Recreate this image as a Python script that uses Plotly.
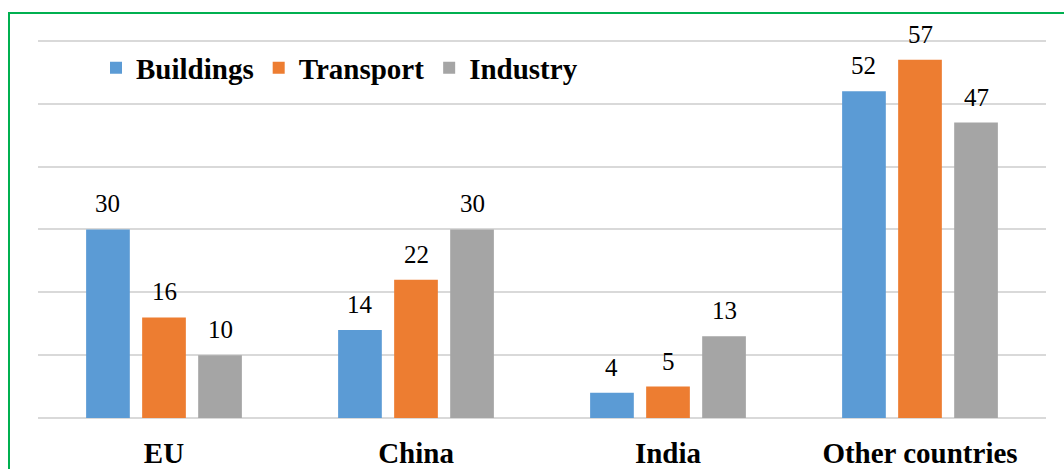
import plotly.graph_objects as go

categories = ["EU", "China", "India", "Other countries"]
buildings = [30, 14, 4, 52]
transport = [16, 22, 5, 57]
industry = [10, 30, 13, 47]

series = [
    ("Buildings", buildings, "#5b9bd5"),
    ("Transport", transport, "#ed7d31"),
    ("Industry", industry, "#a5a5a5"),
]

FONT = "Liberation Serif"
W, H = 1064, 469
ML, MR, MT, MB = 38, 18, 39, 51
BARGAP = 0.333
BARGROUPGAP = 0.22
YMAX = 60.3

fig = go.Figure()
for name, vals, color in series:
    fig.add_trace(go.Bar(
        x=categories, y=vals, name=name,
        marker=dict(color=color, line=dict(width=0)),
    ))

# data labels as annotations above each bar
plot_w = W - ML - MR
cat_w = plot_w / len(categories)
slot = cat_w * (1 - BARGAP) / len(series)
for i, (name, vals, color) in enumerate(series):
    shift = (i - (len(series) - 1) / 2) * slot
    for c, v in zip(categories, vals):
        fig.add_annotation(
            x=c, y=v, text=str(v), showarrow=False,
            xshift=shift, yshift=10, yanchor="bottom",
            font=dict(size=25, color="#000000", weight="normal"),
        )

ph = H - MT - MB
fig.add_shape(
    type="rect", xref="paper", yref="paper",
    x0=(9 - ML) / plot_w, x1=1.2,
    y0=-0.5, y1=(H - MB - 13) / ph,
    line=dict(color="#00b050", width=2), fillcolor="rgba(0,0,0,0)",
    layer="above",
)

fig.update_layout(
    width=W, height=H,
    margin=dict(l=ML, r=MR, t=MT, b=MB, pad=0, autoexpand=False),
    paper_bgcolor="white", plot_bgcolor="white",
    barmode="group", bargap=BARGAP, bargroupgap=BARGROUPGAP,
    font=dict(family=FONT, color="#000000"),
    showlegend=True,
    legend=dict(
        orientation="h", x=(96 - ML) / plot_w, xanchor="left",
        y=(H - MB - 68) / ph, yanchor="middle",
        font=dict(family=FONT, size=29, color="#000000", weight="bold"),
        bgcolor="rgba(0,0,0,0)", borderwidth=0,
        itemsizing="constant", tracegroupgap=0,
    ),
    xaxis=dict(
        type="category", showgrid=False, showline=False, zeroline=False,
        ticks="", ticklabelstandoff=15, automargin=False,
        tickfont=dict(family=FONT, size=29, color="#000000", weight="bold"),
    ),
    yaxis=dict(
        range=[0, YMAX], tick0=0, dtick=10, showgrid=True, gridcolor="#d9d9d9", gridwidth=1.5,
        zeroline=True, zerolinecolor="#d9d9d9", zerolinewidth=1.5,
        showticklabels=False, ticks="", showline=False, automargin=False,
    ),
)

fig.write_html("out.html", config={"displayModeBar": False},
               post_script="document.body.style.margin='0';")
